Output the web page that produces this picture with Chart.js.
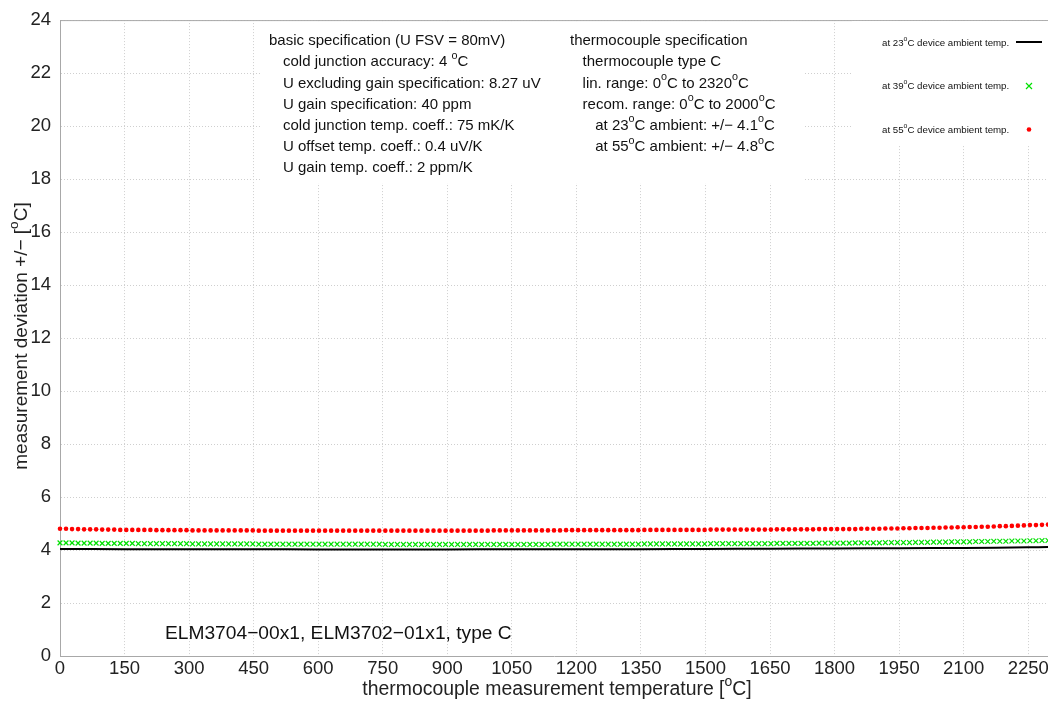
<!DOCTYPE html>
<html>
<head>
<meta charset="utf-8">
<script src="https://cdn.jsdelivr.net/npm/chart.js@4"></script>
<style>
  html, body { margin: 0; padding: 0; background: #fff; }
  #wrap { width: 1048px; height: 707px; }
</style>
</head>
<body>
<div id="wrap"><canvas id="myChart" width="1048" height="707"></canvas></div>
<script>
// thermocouple temperature, step of the marker series
const temps = [
  0,14,28,42,56,70,84,98,112,126,
  140,154,168,182,196,210,224,238,252,266,
  280,294,308,322,336,350,364,378,392,406,
  420,434,448,462,476,490,504,518,532,546,
  560,574,588,602,616,630,644,658,672,686,
  700,714,728,742,756,770,784,798,812,826,
  840,854,868,882,896,910,924,938,952,966,
  980,994,1008,1022,1036,1050,1064,1078,1092,1106,
  1120,1134,1148,1162,1176,1190,1204,1218,1232,1246,
  1260,1274,1288,1302,1316,1330,1344,1358,1372,1386,
  1400,1414,1428,1442,1456,1470,1484,1498,1512,1526,
  1540,1554,1568,1582,1596,1610,1624,1638,1652,1666,
  1680,1694,1708,1722,1736,1750,1764,1778,1792,1806,
  1820,1834,1848,1862,1876,1890,1904,1918,1932,1946,
  1960,1974,1988,2002,2016,2030,2044,2058,2072,2086,
  2100,2114,2128,2142,2156,2170,2184,2198,2212,2226,
  2240,2254,2268,2282,2296
];

// at 55°C device ambient temp.
const dev55 = [
  4.80,4.80,4.79,4.79,4.78,4.78,4.78,4.77,4.77,4.77,
  4.76,4.76,4.76,4.76,4.76,4.76,4.75,4.75,4.75,4.75,
  4.75,4.75,4.74,4.74,4.74,4.74,4.74,4.74,4.74,4.74,
  4.74,4.74,4.74,4.73,4.73,4.73,4.73,4.73,4.73,4.73,
  4.73,4.73,4.73,4.73,4.73,4.73,4.73,4.73,4.73,4.73,
  4.73,4.73,4.73,4.73,4.73,4.73,4.73,4.73,4.73,4.73,
  4.73,4.73,4.73,4.73,4.73,4.73,4.73,4.73,4.73,4.73,
  4.73,4.73,4.74,4.74,4.74,4.74,4.74,4.74,4.74,4.74,
  4.74,4.74,4.74,4.74,4.75,4.75,4.75,4.75,4.75,4.75,
  4.75,4.75,4.75,4.75,4.75,4.75,4.75,4.76,4.76,4.76,
  4.76,4.76,4.76,4.76,4.76,4.76,4.76,4.76,4.77,4.77,
  4.77,4.77,4.77,4.77,4.77,4.77,4.77,4.77,4.77,4.78,
  4.78,4.78,4.78,4.78,4.78,4.78,4.79,4.79,4.79,4.79,
  4.79,4.79,4.79,4.80,4.80,4.80,4.80,4.81,4.81,4.81,
  4.82,4.82,4.83,4.83,4.83,4.84,4.84,4.85,4.85,4.86,
  4.86,4.87,4.87,4.88,4.88,4.89,4.90,4.90,4.91,4.92,
  4.93,4.94,4.94,4.95,4.96
];

// at 39°C device ambient temp.
const dev39 = [
  4.27,4.27,4.27,4.26,4.26,4.26,4.26,4.25,4.25,4.25,
  4.25,4.25,4.25,4.24,4.24,4.24,4.24,4.24,4.24,4.24,
  4.24,4.24,4.23,4.23,4.23,4.23,4.23,4.23,4.23,4.23,
  4.23,4.23,4.23,4.22,4.22,4.22,4.22,4.22,4.22,4.22,
  4.22,4.22,4.22,4.22,4.22,4.22,4.22,4.22,4.22,4.22,
  4.22,4.22,4.22,4.22,4.21,4.21,4.21,4.21,4.21,4.21,
  4.21,4.21,4.21,4.21,4.21,4.21,4.21,4.21,4.21,4.21,
  4.21,4.21,4.21,4.21,4.21,4.21,4.21,4.21,4.21,4.21,
  4.21,4.21,4.22,4.22,4.22,4.22,4.22,4.22,4.22,4.22,
  4.22,4.22,4.22,4.22,4.22,4.22,4.22,4.23,4.23,4.23,
  4.23,4.23,4.23,4.23,4.23,4.23,4.23,4.23,4.24,4.24,
  4.24,4.24,4.24,4.24,4.24,4.24,4.24,4.24,4.24,4.25,
  4.25,4.25,4.25,4.25,4.25,4.25,4.26,4.26,4.26,4.26,
  4.26,4.26,4.27,4.27,4.27,4.27,4.27,4.28,4.28,4.28,
  4.28,4.28,4.29,4.29,4.29,4.30,4.30,4.30,4.31,4.31,
  4.31,4.31,4.32,4.32,4.32,4.33,4.33,4.33,4.34,4.34,
  4.34,4.35,4.35,4.36,4.36
];

// at 23°C device ambient temp. (solid line)
const temps23 = [0,150,300,450,600,750,900,1050,1200,1350,1500,1650,1800,1950,2100,2250,2296];
const dev23 = [4.04,4.03,4.03,4.03,4.02,4.02,4.02,4.03,4.03,4.03,4.04,4.05,4.06,4.07,4.08,4.10,4.11];

const xTicks = [0,150,300,450,600,750,900,1050,1200,1350,1500,1650,1800,1950,2100,2250];
const yTicks = [0,2,4,6,8,10,12,14,16,18,20,22,24];

const specLeft = [
  "basic specification (U FSV = 80mV)",
  "  cold junction accuracy: 4 °C",
  "  U excluding gain specification: 8.27 uV",
  "  U gain specification: 40 ppm",
  "  cold junction temp. coeff.: 75 mK/K",
  "  U offset temp. coeff.: 0.4 uV/K",
  "  U gain temp. coeff.: 2 ppm/K"
];
const specRight = [
  "thermocouple specification",
  "  thermocouple type C",
  "  lin. range: 0°C to 2320°C",
  "  recom. range: 0°C to 2000°C",
  "    at 23°C ambient: +/− 4.1°C",
  "    at 55°C ambient: +/− 4.8°C"
];
const legendLabels = [
  "at 23°C device ambient temp.",
  "at 39°C device ambient temp.",
  "at 55°C device ambient temp."
];
const deviceText = "ELM3704−00x1, ELM3702−01x1, type C";
const xTitle = "thermocouple measurement temperature [°C]";
const yTitle = "measurement deviation +/− [°C]";

const FONT = '"Liberation Sans", Arial, Helvetica, sans-serif';

function toPoints(xs, ys) {
  return xs.map((x, i) => ({ x: x, y: ys[i] }));
}

// draw text where "°" becomes a raised small "o", like gnuplot's ^o
function richWidth(ctx, str, size) {
  let w = 0;
  for (const part of str.split('°')) {
    ctx.font = size + 'px ' + FONT;
    w += ctx.measureText(part).width;
  }
  const n = str.split('°').length - 1;
  ctx.font = (size * 0.72) + 'px ' + FONT;
  w += n * ctx.measureText('o').width;
  return w;
}
function drawRich(ctx, str, x, y, size, align) {
  ctx.save();
  ctx.textBaseline = 'middle';
  ctx.textAlign = 'left';
  let cx = x;
  if (align === 'center') cx = x - richWidth(ctx, str, size) / 2;
  const parts = str.split('°');
  parts.forEach((part, i) => {
    ctx.font = size + 'px ' + FONT;
    ctx.fillText(part, cx, y);
    cx += ctx.measureText(part).width;
    if (i < parts.length - 1) {
      ctx.font = (size * 0.72) + 'px ' + FONT;
      ctx.fillText('o', cx, y - size * 0.42);
      cx += ctx.measureText('o').width;
    }
  });
  ctx.restore();
}

const overlay = {
  id: 'overlay',
  afterDatasetsDraw(chart) {
    const ctx = chart.ctx;
    const a = chart.chartArea;
    ctx.save();
    // top frame line
    ctx.strokeStyle = '#a8a8a8';
    ctx.lineWidth = 1;
    ctx.beginPath();
    ctx.moveTo(a.left, a.top + 0.5);
    ctx.lineTo(a.right, a.top + 0.5);
    ctx.stroke();

    // spec text box
    ctx.fillStyle = '#fff';
    ctx.fillRect(262, 23, 543, 160);
    ctx.fillStyle = '#111';
    specLeft.forEach((s, i) => {
      const ind = s.length - s.trimStart().length;
      drawRich(ctx, s.trim(), 269 + ind * 7, 41 + i * 21.2, 15);
    });
    specRight.forEach((s, i) => {
      const ind = s.length - s.trimStart().length;
      drawRich(ctx, s.trim(), 570 + ind * 6.3, 41 + i * 21.2, 15);
    });

    // legend box
    ctx.fillStyle = '#fff';
    ctx.fillRect(852, a.top + 1, 1048 - 852, 124);
    ctx.fillStyle = '#111';
    legendLabels.forEach((s, i) => drawRich(ctx, s, 882, 43 + i * 43.5, 9.7));
    ctx.strokeStyle = '#000';
    ctx.lineWidth = 2;
    ctx.beginPath();
    ctx.moveTo(1016, 42);
    ctx.lineTo(1042, 42);
    ctx.stroke();
    ctx.strokeStyle = '#00e000';
    ctx.lineWidth = 1.2;
    ctx.beginPath();
    ctx.moveTo(1026, 83); ctx.lineTo(1032, 89);
    ctx.moveTo(1032, 83); ctx.lineTo(1026, 89);
    ctx.stroke();
    ctx.fillStyle = '#ff0000';
    ctx.beginPath();
    ctx.arc(1029, 129.5, 2.3, 0, Math.PI * 2);
    ctx.fill();

    // device text
    ctx.fillStyle = '#111';
    drawRich(ctx, deviceText, 165, 634, 19.2);

    // axis titles
    ctx.fillStyle = '#222';
    drawRich(ctx, xTitle, 557, 690, 19.4, 'center');
    ctx.save();
    ctx.translate(22, 336);
    ctx.rotate(-Math.PI / 2);
    drawRich(ctx, yTitle, 0, 0, 19, 'center');
    ctx.restore();
    ctx.restore();
  }
};

const gridStyle = {
  color: '#cfcfcf',
  lineWidth: 1,
  drawTicks: false,
  tickLength: 0
};

new Chart(document.getElementById('myChart'), {
  type: 'line',
  data: {
    datasets: [
      {
        label: legendLabels[0],
        data: toPoints(temps23, dev23),
        borderColor: '#000',
        borderWidth: 2,
        pointRadius: 0,
        tension: 0.3,
        order: 1
      },
      {
        label: legendLabels[1],
        data: toPoints(temps, dev39),
        showLine: false,
        pointStyle: 'crossRot',
        pointRadius: 3.4,
        pointBorderWidth: 1.2,
        pointBorderColor: '#00e000',
        pointBackgroundColor: '#00e000',
        order: 2
      },
      {
        label: legendLabels[2],
        data: toPoints(temps, dev55),
        showLine: false,
        pointStyle: 'circle',
        pointRadius: 2.3,
        pointBorderWidth: 0,
        pointBackgroundColor: '#ff0000',
        order: 3
      }
    ]
  },
  options: {
    responsive: false,
    animation: false,
    clip: false,
    layout: { autoPadding: false, padding: { top: 18, right: 0, left: 0, bottom: 0 } },
    plugins: { legend: { display: false }, tooltip: { enabled: false } },
    scales: {
      x: {
        type: 'linear',
        min: 0,
        max: 2296,
        afterBuildTicks: s => { s.ticks = xTicks.map(v => ({ value: v })); },
        afterFit: s => { s.height = 51; s.paddingLeft = 0; s.paddingRight = 0; },
        ticks: {
          autoSkip: false,
          maxRotation: 0,
          padding: 2,
          color: '#222',
          font: { family: FONT, size: 18.5 },
          callback: v => String(v)
        },
        grid: { ...gridStyle },
        border: { display: true, color: '#a8a8a8', dash: [1, 2] }
      },
      y: {
        min: 0,
        max: 24,
        afterBuildTicks: s => { s.ticks = yTicks.map(v => ({ value: v })); },
        afterFit: s => { s.width = 60; },
        ticks: {
          padding: 9,
          color: '#222',
          font: { family: FONT, size: 18.5 },
          callback: v => String(v)
        },
        grid: { ...gridStyle },
        border: { display: true, color: '#a8a8a8', dash: [1, 2] }
      }
    }
  },
  plugins: [overlay]
});
</script>
</body>
</html>
